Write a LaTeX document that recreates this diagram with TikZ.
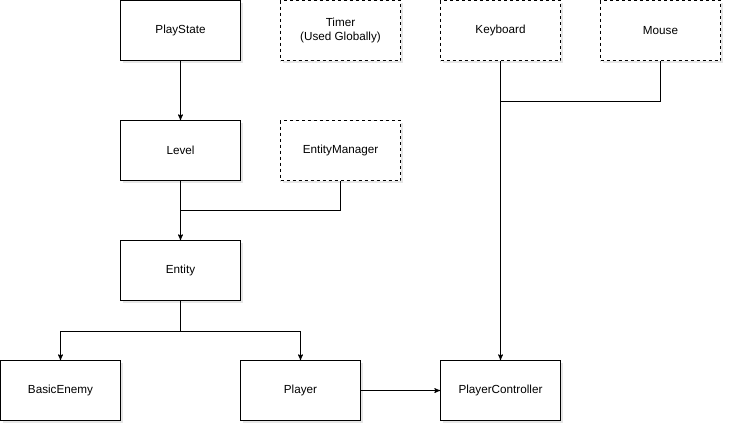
\documentclass[tikz,border=0pt]{standalone}
\usepackage{fontspec}
\setmainfont{Liberation Sans}
\usetikzlibrary{arrows,positioning,calc,shadows}

\tikzset{
    block/.style={draw, fill=white, line width=1pt, minimum width=120pt, minimum height=60pt,
        inner sep=0pt, align=center, font=\fontsize{11.7}{14.5}\selectfont,
        drop shadow={shadow xshift=2pt, shadow yshift=-2pt, opacity=0.2}},
    global/.style={block, dash pattern=on 3pt off 3pt}
}

\begin{document}
\begin{tikzpicture}[>=stealth', line width=1pt, node distance=160pt]
    \useasboundingbox (0,0) rectangle (732pt,-432pt);

    \node[block]  (PlayState)        at (180.5pt,-30.5pt)            {PlayState};
    \node[global] (Timer)            [right of=PlayState]            {Timer\\(Used Globally)};
    \node[global] (Keyboard)         [right of=Timer]                {Keyboard};
    \node[global] (Mouse)            [right of=Keyboard]             {Mouse};
    \node[block]  (Level)            [below of=PlayState, node distance=120pt] {Level};
    \node[global] (EntityManager)    [right of=Level]                {EntityManager};
    \node[block]  (Entity)           [below of=Level, node distance=120pt]     {Entity};
    \node[block]  (BasicEnemy)       [below of=Entity, node distance=120pt, xshift=-120pt] {BasicEnemy};
    \node[block]  (Player)           [below of=Entity, node distance=120pt, xshift=120pt]  {Player};
    \node[block]  (PlayerController) [right of=Player, xshift=40pt]  {PlayerController};

    \coordinate (levelJoin) at ($(Level.south)!0.5!(Entity.north)$);
    \coordinate (inputJoin) at ($(Keyboard.south)+(0,-40pt)$);

    \draw[->] (PlayState) -- (Level);
    \draw[->] (Level) -- (Entity);
    \draw (EntityManager.south) |- (levelJoin);
    \draw[->] (Entity.south) -- ++(0,-30pt) -| (BasicEnemy.north);
    \draw[->] (Entity.south) -- ++(0,-30pt) -| (Player.north);
    \draw[->] (Player) -- (PlayerController);
    \draw[->] (Keyboard) -- (PlayerController);
    \draw (Mouse.south) |- (inputJoin);
\end{tikzpicture}
\end{document}
